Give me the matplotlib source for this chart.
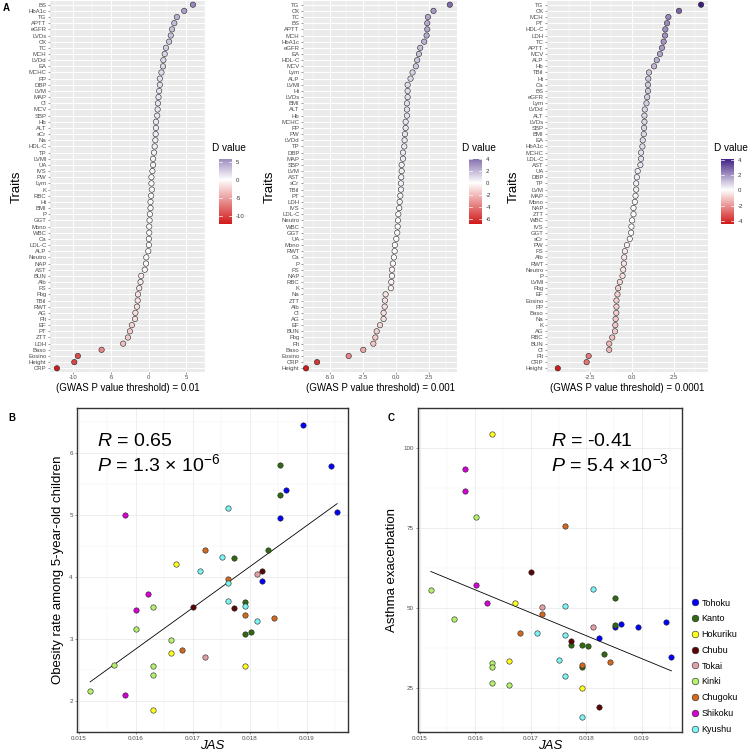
import numpy as np
import matplotlib
matplotlib.use('Agg')
import matplotlib.pyplot as plt
from matplotlib.colors import LinearSegmentedColormap, Normalize
from matplotlib.lines import Line2D

plt.rcParams['font.family'] = ['Liberation Sans', 'DejaVu Sans']
plt.rcParams['mathtext.fontset'] = 'custom'
plt.rcParams['mathtext.rm'] = 'Liberation Sans'
plt.rcParams['mathtext.it'] = 'Liberation Sans:italic'

# ---- panel A data (top to bottom) ----
traits_01 = ['BS', 'HbA1c', 'TG', 'APTT', 'eGFR', 'LVDs', 'CK', 'TC', 'MCH', 'LVDd',
             'EA', 'MCHC', 'PP', 'DBP', 'LVM', 'MAP', 'Cl', 'MCV', 'SBP', 'Hb',
             'ALT', 'sCr', 'Na', 'HDL-C', 'TP', 'LVMI', 'UA', 'IVS', 'PW', 'Lym',
             'K', 'RBC', 'Ht', 'BMI', 'P', 'GGT', 'Mono', 'WBC', 'Ca', 'LDL-C',
             'ALP', 'Neutro', 'NAP', 'AST', 'BUN', 'Alb', 'FS', 'Fbg', 'TBil', 'RWT',
             'AG', 'Plt', 'EF', 'PT', 'ZTT', 'LDH', 'Baso', 'Eosino', 'Height', 'CRP']
d_01 = [5.9, 4.74, 3.76, 3.42, 3.12, 2.95, 2.73, 2.31, 2.14, 1.97,
        1.92, 1.71, 1.5, 1.5, 1.41, 1.32, 1.24, 1.2, 1.15, 0.98,
        0.98, 0.94, 0.9, 0.81, 0.73, 0.6, 0.6, 0.51, 0.38, 0.38,
        0.43, 0.34, 0.26, 0.26, 0.17, 0.13, 0.09, 0.09, 0.04, 0.04,
        -0.04, -0.3, -0.34, -0.51, -0.98, -1.07, -1.24, -1.41, -1.45, -1.54,
        -1.75, -1.8, -2.22, -2.48, -2.74, -3.38, -6.24, -9.4, -9.87, -12.18]

traits_001 = ['TG', 'CK', 'TC', 'BS', 'APTT', 'MCH', 'HbA1c', 'eGFR', 'EA', 'HDL-C',
              'MCV', 'Lym', 'ALP', 'LVMI', 'Ht', 'LVDs', 'BMI', 'ALT', 'Hb', 'MCHC',
              'PP', 'PW', 'LVDd', 'TP', 'DBP', 'MAP', 'SBP', 'LVM', 'AST', 'sCr',
              'TBil', 'PT', 'LDH', 'IVS', 'LDL-C', 'Neutro', 'WBC', 'GGT', 'UA', 'Mono',
              'RWT', 'Ca', 'P', 'FS', 'NAP', 'RBC', 'K', 'Na', 'ZTT', 'Alb',
              'Cl', 'AG', 'EF', 'BUN', 'Fbg', 'Plt', 'Baso', 'Eosino', 'CRP', 'Height']
d_001 = [4.06, 2.83, 2.41, 2.36, 2.36, 2.31, 2.13, 1.83, 1.73, 1.6,
         1.5, 1.25, 1.1, 0.88, 0.88, 0.88, 0.83, 0.83, 0.83, 0.73,
         0.73, 0.68, 0.65, 0.63, 0.53, 0.53, 0.43, 0.43, 0.4, 0.38,
         0.38, 0.33, 0.28, 0.25, 0.18, 0.15, 0.13, 0.1, 0.03, -0.08,
         -0.1, -0.15, -0.23, -0.3, -0.3, -0.35, -0.38, -0.78, -0.83, -0.85,
         -0.93, -0.93, -1.2, -1.45, -1.55, -1.7, -2.46, -3.56, -5.94, -6.77]

traits_0001 = ['TG', 'CK', 'MCH', 'PT', 'HDL-C', 'LDH', 'TC', 'APTT', 'MCV', 'ALP',
               'Hb', 'TBil', 'Ht', 'Ca', 'BS', 'eGFR', 'Lym', 'LVDd', 'ALT', 'LVDs',
               'SBP', 'BMI', 'EA', 'HbA1c', 'MCHC', 'LDL-C', 'AST', 'UA', 'DBP', 'TP',
               'LVM', 'MAP', 'Mono', 'NAP', 'ZTT', 'WBC', 'IVS', 'GGT', 'sCr', 'PW',
               'FS', 'Alb', 'RWT', 'Neutro', 'P', 'LVMI', 'Fbg', 'EF', 'Eosino', 'PP',
               'Baso', 'Na', 'K', 'AG', 'RBC', 'BUN', 'Cl', 'Plt', 'CRP', 'Height']
d_0001 = [4.09, 2.78, 2.15, 2.07, 1.97, 1.95, 1.87, 1.77, 1.65, 1.46,
          1.3, 1.0, 0.96, 0.94, 0.94, 0.89, 0.85, 0.75, 0.73, 0.73,
          0.71, 0.69, 0.63, 0.61, 0.53, 0.53, 0.49, 0.33, 0.28, 0.24,
          0.24, 0.2, 0.16, 0.08, 0.08, 0.0, -0.04, -0.06, -0.14, -0.31,
          -0.43, -0.47, -0.49, -0.53, -0.57, -0.73, -0.83, -0.87, -0.93, -0.93,
          -0.94, -0.98, -1.0, -1.02, -1.18, -1.36, -1.36, -2.58, -2.7, -4.41]

thresholds = ['0.01', '0.001', '0.0001']

# ---- panel B / C data ----
regions = ['Tohoku', 'Kanto', 'Hokuriku', 'Chubu', 'Tokai', 'Kinki', 'Chugoku', 'Shikoku', 'Kyushu']
region_colors = ['#0000FF', '#2F6A12', '#FFFF1A', '#5A0505', '#E0A0A8', '#B4F06A', '#D2691E', '#D400D4', '#7CF4F4']

b_region = ['Tohoku'] * 6 + ['Kanto'] * 7 + ['Hokuriku'] * 4 + ['Chubu'] * 3 + ['Tokai'] * 2 \
    + ['Kinki'] * 7 + ['Chugoku'] * 5 + ['Shikoku'] * 4 + ['Kyushu'] * 7
b_jas = [0.01893, 0.01943, 0.01863, 0.01852, 0.01953, 0.01822,
         0.01852, 0.01852, 0.01832, 0.01772, 0.01792, 0.01792, 0.01802,
         0.01671, 0.01661, 0.01631, 0.01792,
         0.01822, 0.01701, 0.01772,
         0.01812, 0.01721,
         0.01631, 0.01601, 0.01661, 0.01561, 0.01631, 0.01631, 0.01520,
         0.01721, 0.01761, 0.01792, 0.01842, 0.01681,
         0.01581, 0.01622, 0.01601, 0.01581,
         0.01761, 0.01751, 0.01712, 0.01761, 0.01761, 0.01792, 0.01812]
b_obesity = [6.45, 5.79, 5.40, 4.94, 5.05, 3.94,
             5.80, 5.32, 4.44, 4.31, 3.59, 3.08, 3.11,
             4.21, 2.78, 1.85, 2.56,
             4.10, 3.51, 3.50,
             4.04, 2.71,
             3.52, 3.16, 2.99, 2.58, 2.56, 2.42, 2.16,
             4.43, 3.97, 3.39, 3.34, 2.82,
             5.00, 3.73, 3.47, 2.09,
             5.11, 4.32, 4.09, 3.90, 3.61, 3.53, 3.29]

c_region = b_region
c_jas = b_jas
c_asthma = [44.0, 45.5, 45.0, 44.0, 34.5, 40.5,
            53.0, 44.5, 35.5, 38.5, 38.5, 31.5, 38.0,
            51.4, 33.3, 104.5, 25.0,
            19.0, 61.3, 39.5,
            44.0, 50.4,
            32.9, 78.5, 25.8, 46.6, 31.4, 26.5, 55.5,
            48.0, 75.5, 32.0, 33.0, 42.3,
            93.3, 51.4, 57.3, 86.5,
            50.5, 33.7, 42.3, 41.6, 28.8, 16.0, 56.0]

W, H = 750, 753
fig = plt.figure(figsize=(W / 100, H / 100), dpi=100)


def px_axes(x0, y0, x1, y1):
    return fig.add_axes([x0 / W, 1 - y1 / H, (x1 - x0) / W, (y1 - y0) / H])


def ftext(x, y, s, **kw):
    return fig.text(x / W, 1 - y / H, s, **kw)


cmap = LinearSegmentedColormap.from_list('dval', ['#D21A1A', '#FFFFFF', '#2E0A78'])

panelA = [(traits_01, d_01, (50, 205), [-10, -5, 0, 5], '{:g}', (-13.1, 6.8), (219, 232), [5, 0, -5, -10]),
          (traits_001, d_001, (303, 457), [-5, -2.5, 0, 2.5], '{:.1f}', (-7.0, 4.6), (469, 482), [4, 2, 0, -2, -4, -6]),
          (traits_0001, d_0001, (547, 708), [-2.5, 0, 2.5], '{:.1f}', (-5.05, 4.5), (721, 734), [4, 2, 0, -2, -4])]

for i, (traits, dvals, (x0, x1), xt, fmt, xl, (cx0, cx1), cticks) in enumerate(panelA):
    dvals = np.array(dvals)
    n = len(traits)
    ypos = np.arange(n)[::-1]
    lim = np.abs(dvals).max()
    norm = Normalize(-lim, lim)
    ax = px_axes(x0, 1, x1, 372)
    ax.set_facecolor('#EBEBEB')
    for s in ax.spines.values():
        s.set_visible(False)
    ax.set_xlim(*xl)
    ax.set_ylim(-0.6, n - 0.4)
    ax.set_xticks(xt)
    ax.set_xticklabels([fmt.format(v) for v in xt])
    minor = [(a + b) / 2 for a, b in zip(xt[:-1], xt[1:])]
    step = xt[1] - xt[0]
    minor = [xt[0] - step / 2] + minor + [xt[-1] + step / 2]
    ax.set_xticks(minor, minor=True)
    ax.set_yticks(ypos)
    ax.set_yticklabels(traits)
    ax.grid(True, which='major', color='white', lw=0.7)
    ax.grid(True, which='minor', axis='x', color='white', lw=0.35)
    ax.set_axisbelow(True)
    ax.tick_params(axis='both', which='major', labelsize=4.3, colors='#4D4D4D', length=1.5, width=0.4, pad=1)
    ax.tick_params(axis='x', which='minor', length=0)
    ax.scatter(dvals, ypos, c=dvals, cmap=cmap, norm=norm, s=15, edgecolors='#222222', linewidths=0.4, zorder=3)
    ax.set_xlabel('(GWAS P value threshold) = ' + thresholds[i], fontsize=7, labelpad=2)
    ax.set_ylabel('Traits', fontsize=9.5, labelpad=4)

    # colorbar (data range only, like ggplot)
    cax = px_axes(cx0, 159, cx1, 224)
    lo, hi = dvals.min(), dvals.max()
    grad = np.linspace(lo, hi, 256).reshape(-1, 1)
    cax.imshow(grad, cmap=cmap, norm=norm, aspect='auto', origin='lower', extent=[0, 1, lo, hi])
    cax.set_xticks([])
    cax.yaxis.tick_right()
    ct = [t for t in cticks if lo <= t <= hi]
    cax.set_yticks(ct)
    cax.set_yticklabels([str(t) for t in ct])
    cax.tick_params(axis='y', labelsize=4.3, colors='#333333', length=0, pad=3)
    for t in ct:
        cax.plot([0, 0.2], [t, t], color='white', lw=0.5)
        cax.plot([0.8, 1], [t, t], color='white', lw=0.5)
    cax.set_xlim(0, 1)
    cax.set_ylim(lo, hi)
    for s in cax.spines.values():
        s.set_visible(False)
    ftext(cx0 - 7, 148, 'D value', fontsize=7.2, va='center', ha='left')

ftext(3, 8, 'A', fontsize=7, fontweight='bold', va='center')


def scatter_panel(x0, x1, xs, ys, regs, ylim, yt, ylabel):
    ax = px_axes(x0, 408, x1, 732)
    ax.set_facecolor('white')
    ax.set_xlim(0.01497, 0.01972)
    ax.set_ylim(*ylim)
    xt = [0.015, 0.016, 0.017, 0.018, 0.019]
    ax.set_xticks(xt)
    ax.set_xticklabels(['0.015', '0.016', '0.017', '0.018', '0.019'])
    ax.set_xticks([0.0155, 0.0165, 0.0175, 0.0185, 0.0195], minor=True)
    ax.set_yticks(yt)
    step = yt[1] - yt[0]
    ax.set_yticks([v + step / 2 for v in [yt[0] - step] + yt], minor=True)
    ax.grid(True, which='major', color='#EBEBEB', lw=0.6)
    ax.grid(True, which='minor', color='#F2F2F2', lw=0.35)
    ax.set_axisbelow(True)
    for s in ax.spines.values():
        s.set_color('#333333')
        s.set_linewidth(1.0)
    ax.tick_params(axis='both', which='major', labelsize=4.5, colors='#4D4D4D', length=1.5, width=0.4, pad=1.5)
    ax.tick_params(which='minor', length=0)
    xs = np.array(xs)
    ys = np.array(ys)
    for reg, col in zip(regions, region_colors):
        m = np.array([r == reg for r in regs])
        ax.scatter(xs[m], ys[m], s=15, c=col, edgecolors='#222222', linewidths=0.4, zorder=3)
    k, b = np.polyfit(xs, ys, 1)
    xx = np.array([xs.min(), xs.max()])
    ax.plot(xx, k * xx + b, color='black', lw=0.6, zorder=2)
    ax.set_xlabel('JAS', fontsize=9.5, style='italic', labelpad=-0.5)
    ax.set_ylabel(ylabel, fontsize=9.5, labelpad=4)
    return ax


scatter_panel(77, 348, b_jas, b_obesity, b_region, (1.65, 6.72), [2, 3, 4, 5, 6],
              'Obesity rate among 5-year-old children')
scatter_panel(418, 682, c_jas, c_asthma, c_region, (11.2, 109.5), [25, 50, 75, 100],
              'Asthma exacerbation')

ftext(8, 418, 'B', fontsize=7, fontweight='bold', va='center')
ftext(388, 418, 'C', fontsize=7, fontweight='bold', va='center')

ftext(97, 441, r'$\it{R}$ = 0.65', fontsize=14, va='center')
ftext(97, 464, r'$\it{P}$ = 1.3 × 10$^{-6}$', fontsize=14, va='center')
ftext(551, 441, r'$\it{R}$ = -0.41', fontsize=14, va='center')
ftext(551, 464, r'$\it{P}$ = 5.4 ×10$^{-3}$', fontsize=14, va='center')

handles = [Line2D([], [], marker='o', ls='', markersize=4.8, markerfacecolor=c,
                  markeredgecolor='#222222', markeredgewidth=0.4) for c in region_colors]
fig.legend(handles, regions, loc='upper left', bbox_to_anchor=(686 / W, 1 - 594 / H),
           frameon=False, fontsize=6.5, handletextpad=0.2, labelspacing=0.75,
           handlelength=1.0, borderpad=0)

fig.savefig('out.png', dpi=100)
